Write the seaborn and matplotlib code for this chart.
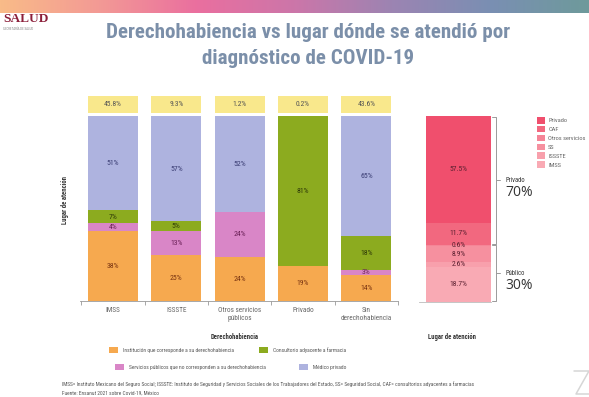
import numpy as np
import pandas as pd
import matplotlib
matplotlib.use("Agg")
import matplotlib.pyplot as plt
import seaborn as sns
from matplotlib.patches import Patch
from matplotlib.lines import Line2D
from matplotlib.colors import LinearSegmentedColormap

# datos de la grafica izquierda (derechohabiencia)
grupos = ["IMSS", "ISSSTE", "Otros servicios\npúblicos", "Privado", "Sin\nderechohabiencia"]
pct_grupo = ["45.8%", "9.3%", "1.2%", "0.2%", "43.6%"]
institucion = [38, 25, 24, 19, 14]
publicos_otros = [4, 13, 24, 0, 3]
consultorio = [7, 5, 0, 81, 18]
medico_privado = [51, 57, 52, 0, 65]

# datos de la grafica derecha (lugar de atencion), de abajo hacia arriba
lugares = ["IMSS", "ISSSTE", "SS", "Otros servicios", "CAF", "Privado"]
lugar_pct = [18.7, 2.6, 8.9, 0.6, 11.7, 57.5]
bloques = ["Público", "Privado"]
bloque_pct = ["30%", "70%"]

series_nombres = [
    "Institución que corresponde a su derechohabiencia",
    "Servicios públicos que no corresponden a su derechohabiencia",
    "Consultorio adyacente a farmacia",
    "Médico privado",
]
series_vals = [institucion, publicos_otros, consultorio, medico_privado]
series_colores = ["#f6a94f", "#d986c7", "#8cab1f", "#aeb3df"]
series_texto = ["#7a3512", "#6b2258", "#2f3a08", "#3b3e74"]
lugar_colores = ["#f9aab4", "#f8a0ac", "#f6909f", "#f58597", "#f2687f", "#f04f6d"]

sns.set_style("white")
narrow = ["Liberation Sans Narrow", "DejaVu Sans Condensed", "Noto Sans Condensed",
          "Roboto Condensed", "DejaVu Sans"]
plt.rcParams["font.family"] = narrow
plt.rcParams["font.stretch"] = "condensed"

W, H = 589, 397
fig = plt.figure(figsize=(W / 100, H / 100), dpi=100)
fig.patch.set_facecolor("white")


def fx(px):
    return px / W


def fy(py):
    return 1 - py / H


def ajustar_ancho(t, ancho_px):
    r = fig.canvas.get_renderer()
    w = t.get_window_extent(r).width
    t.set_fontsize(t.get_fontsize() * ancho_px / w)


# franja de color superior
cmap = LinearSegmentedColormap.from_list(
    "franja", ["#f9bb88", "#f39a95", "#ea6f9f", "#cc76a9", "#9c84b2", "#7a8fb3", "#6e9a9b"])
ax_g = fig.add_axes([0, fy(13), 1, 13 / H])
ax_g.imshow(np.linspace(0, 1, 256)[None, :], aspect="auto", cmap=cmap)
ax_g.axis("off")

# logo
fig.text(fx(3), fy(22.5), "SALUD", fontsize=9.6, weight="bold", color="#8c1f3a",
         family=["Liberation Serif", "DejaVu Serif"], stretch="normal", va="baseline")
fig.text(fx(3), fy(29.5), "SECRETARÍA DE SALUD", fontsize=2.3, color="#888888", va="baseline")

# titulo
titulo_color = "#7b8fa9"
t1 = fig.text(fx(308), fy(33), "Derechohabiencia vs lugar dónde se atendió por", ha="center",
              va="center", fontsize=15, weight="bold", color=titulo_color)
t2 = fig.text(fx(308), fy(58), "diagnóstico de COVID-19", ha="center", va="center",
              fontsize=15, weight="bold", color=titulo_color)
ajustar_ancho(t1, 403)
t2.set_fontsize(t1.get_fontsize())

# ---------- grafica izquierda ----------
ax = fig.add_axes([fx(80), fy(301), fx(398) - fx(80), (301 - 96) / H])
cum = np.cumsum(np.array(series_vals), axis=0)
for i in reversed(range(len(series_vals))):
    sns.barplot(x=grupos, y=cum[i], color=series_colores[i], saturation=1, width=0.79,
                errorbar=None, ax=ax, linewidth=0)

for i, vals in enumerate(series_vals):
    base = cum[i] - np.array(vals)
    for j, v in enumerate(vals):
        if v > 0:
            ax.text(j, base[j] + v / 2, f"{v}%", ha="center", va="center", fontsize=5.6,
                    color=series_texto[i])

# recuadros amarillos con el porcentaje de cada grupo
ax.bar(np.arange(len(grupos)), 9.2, bottom=101.6, width=0.79, color="#f9e88c", linewidth=0)
for j, t in enumerate(pct_grupo):
    ax.text(j, 106.2, t, ha="center", va="center", fontsize=5.4, color="#555555")

ax.set_xlim(-0.52, len(grupos) - 0.5)
ax.set_ylim(0, 110.8)
ax.set_yticks([])
ax.set_xticks(np.arange(-0.5, len(grupos)), minor=True)
ax.tick_params(axis="x", which="major", length=0, labelsize=5.2, labelcolor="#666666", pad=4)
ax.tick_params(axis="x", which="minor", length=3, color="#999999", width=0.6, bottom=True)
for s in ["top", "right", "left"]:
    ax.spines[s].set_visible(False)
ax.spines["bottom"].set_color("#999999")
ax.spines["bottom"].set_linewidth(0.6)
ax.set_ylabel("Lugar de atención", fontsize=4.8, weight="bold", color="#333333")
ax.yaxis.set_label_coords((69 - 80) / (398 - 80), (301 - 200) / (301 - 96))
ax.set_xlabel("")

# ---------- grafica derecha ----------
ax_r = fig.add_axes([fx(419), fy(302), fx(491) - fx(419), (302 - 116) / H])
cum_r = np.cumsum(lugar_pct)
for i in reversed(range(len(lugar_pct))):
    sns.barplot(x=["Lugar de atención"], y=[cum_r[i]], color=lugar_colores[i], saturation=1,
                width=1.0, errorbar=None, ax=ax_r, linewidth=0)
for i, v in enumerate(lugar_pct):
    ax_r.text(0, cum_r[i] - v / 2, f"{v}%", ha="center", va="center", fontsize=5.4,
              color="#5a2030")
ax_r.set_xlim(-0.6, 0.5)
ax_r.set_ylim(0, 100)
ax_r.set_xticks([])
ax_r.set_yticks([])
ax_r.set_xlabel("")
for s in ["top", "right", "left"]:
    ax_r.spines[s].set_visible(False)
ax_r.spines["bottom"].set_color("#bbbbbb")
ax_r.spines["bottom"].set_linewidth(0.6)

# llaves de Publico / Privado
corte = cum_r[lugares.index("Otros servicios")]
tramos = [(0, corte), (corte, cum_r[-1])]
trans = ax_r.get_yaxis_transform()
xb, xt, xo = 1.07, 1.02, 1.13
for (y0, y1), nombre, pct in zip(tramos, bloques, bloque_pct):
    ax_r.plot([xt, xb, xb, xt], [y0 + 0.4, y0 + 0.4, y1 - 0.4, y1 - 0.4], transform=trans,
              color="#9a9a9a", lw=0.7, clip_on=False)
    ym = (y0 + y1) / 2
    ax_r.plot([xb, xo], [ym, ym], transform=trans, color="#9a9a9a", lw=0.7, clip_on=False)
    ax_r.text(1.20, ym, nombre, transform=trans, fontsize=4.8, color="#333333", va="center")
    ax_r.annotate(pct, xy=(1.20, ym), xycoords=trans, xytext=(0, -3.5), textcoords="offset points",
                  fontsize=10, color="#333333", va="top", family=["Open Sans", "DejaVu Sans"],
                  stretch="normal")

handles_r = [Patch(facecolor=c, edgecolor="none") for c in lugar_colores[::-1]]
fig.legend(handles_r, lugares[::-1], loc="upper left", bbox_to_anchor=(fx(537), fy(117)),
           frameon=False, fontsize=4.6, handlelength=1.25, handleheight=1.2, labelspacing=0.36,
           handletextpad=0.5, borderpad=0, borderaxespad=0, labelcolor="#666666")

# titulos bajo las graficas
fig.text(fx(235), fy(337), "Derechohabiencia", ha="center", va="center", fontsize=4.8,
         weight="bold", color="#333333")
fig.text(fx(452), fy(337), "Lugar de atención", ha="center", va="center", fontsize=4.8,
         weight="bold", color="#333333")

# leyenda inferior: una entrada por posicion
posiciones = [(109, 350), (115, 367), (259, 350), (299, 367)]
for k, (px, py) in enumerate(posiciones):
    fig.legend([Patch(facecolor=series_colores[k], edgecolor="none")], [series_nombres[k]],
               loc="center left", bbox_to_anchor=(fx(px), fy(py)), frameon=False, fontsize=4.0,
               handlelength=1.6, handleheight=1.3, handletextpad=0.9, borderpad=0,
               borderaxespad=0, labelcolor="#555555")

# notas
n1 = fig.text(fx(62), fy(384), "IMSS= Instituto Mexicano del Seguro Social; ISSSTE: Instituto de "
              "Seguridad y Servicios Sociales de los Trabajadores del Estado, SS= Seguridad Social, "
              "CAF= consultorios adyacentes a farmacias", fontsize=4.2, color="#555555", va="center")
ajustar_ancho(n1, 406)
fig.text(fx(62), fy(393), "Fuente: Ensanut 2021 sobre Covid-19, México",
         fontsize=n1.get_fontsize(), color="#555555", va="center")

# marca en la esquina
gris = "#d6d6d6"
fig.add_artist(Line2D([fx(574), fx(589), fx(576), fx(589)],
                      [fy(371), fy(371), fy(394), fy(394)], color=gris, lw=1.1))

fig.savefig("out.png", dpi=100, facecolor="white")
